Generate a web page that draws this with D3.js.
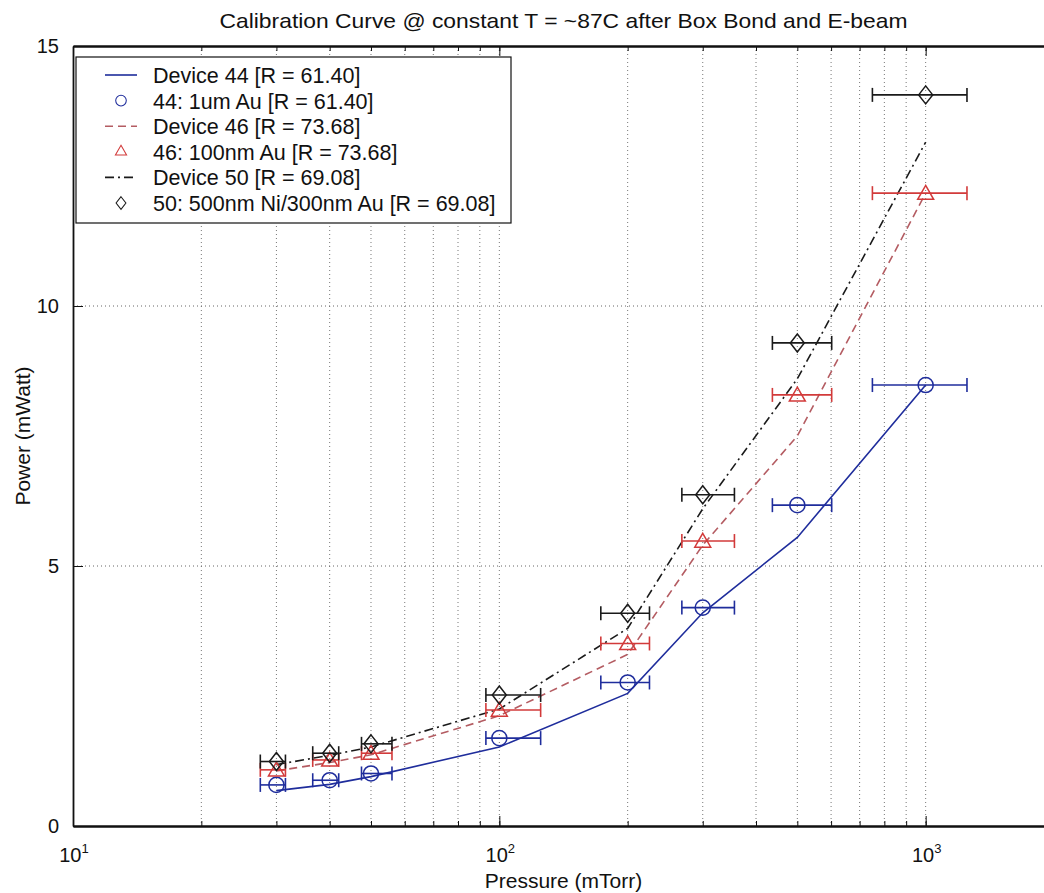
<!DOCTYPE html>
<html>
<head>
<meta charset="utf-8">
<script src="https://cdn.jsdelivr.net/npm/d3@7/dist/d3.min.js"></script>
<style>
  body { margin: 0; background: #fff; }
  text { font-family: "Liberation Sans", Arial, sans-serif; fill: #111; }
</style>
</head>
<body>
<div id="container"></div>
<script>
// pressure points (mTorr) and the horizontal error bar ends
var pressure = [30, 40, 50, 100, 200, 300, 500, 1000];
var pressureLow = [27.5, 36.5, 47.5, 93, 173, 268, 437, 750];
var pressureHigh = [31.5, 42, 56, 125, 225, 356, 602, 1250];

// measured power (mWatt)
var dev44Meas = [0.79, 0.88, 1.01, 1.69, 2.76, 4.20, 6.17, 8.48];
var dev46Meas = [1.08, 1.27, 1.40, 2.23, 3.51, 5.48, 8.29, 12.17];
var dev50Meas = [1.24, 1.40, 1.58, 2.52, 4.09, 6.37, 9.29, 14.06];

// model curves (mWatt)
var dev44Fit = [0.68, 0.80, 0.95, 1.52, 2.55, 4.10, 5.55, 8.48];
var dev46Fit = [1.06, 1.22, 1.37, 2.12, 3.30, 5.40, 7.50, 12.17];
var dev50Fit = [1.18, 1.36, 1.52, 2.25, 3.80, 6.10, 8.60, 13.15];

var legendLabels = [
  "Device 44 [R = 61.40]",
  "44: 1um Au [R = 61.40]",
  "Device 46 [R = 73.68]",
  "46: 100nm Au [R = 73.68]",
  "Device 50 [R = 69.08]",
  "50: 500nm Ni/300nm Au [R = 69.08]"
];
var xMajorTicks = [10, 100, 1000];
var xTickExp = ["1", "2", "3"];
var yTicks = [0, 5, 10, 15];

var titleText = "Calibration Curve @ constant T = ~87C after Box Bond and E-beam";
var xLabel = "Pressure (mTorr)";
var yLabel = "Power (mWatt)";

// size of the drawing
var svgWidth = 1044, svgHeight = 893;
var plotLeft = 73, plotRight = 1054, plotTop = 46, plotBottom = 826;

var svg = d3.select("#container")
  .append("svg")
  .attr("width", svgWidth)
  .attr("height", svgHeight);

var x = d3.scaleLog().domain([10, 2000]).range([plotLeft, plotRight]);
var y = d3.scaleLinear().domain([0, 15]).range([plotBottom, plotTop]);

// styles for each series
var blue = "#1f2d9c", red = "#d23a3a", redLine = "#b45c62", black = "#1a1a1a";
var series = [
  { meas: dev44Meas, fit: dev44Fit, color: blue, lineColor: blue, dash: null, marker: "circle" },
  { meas: dev46Meas, fit: dev46Fit, color: red, lineColor: redLine, dash: "8,5", marker: "triangle" },
  { meas: dev50Meas, fit: dev50Fit, color: black, lineColor: black, dash: "9,4,2,4", marker: "diamond" }
];

// grid (dotted)
var allXTicks = x.ticks().filter(function (d) { return d > 10 && d < 2000; });
var grid = svg.append("g").attr("class", "grid");
grid.selectAll(".vgrid")
  .data(allXTicks)
  .enter().append("line")
  .attr("x1", function (d) { return x(d); })
  .attr("x2", function (d) { return x(d); })
  .attr("y1", plotTop)
  .attr("y2", plotBottom)
  .attr("stroke", "#777")
  .attr("stroke-width", 1)
  .attr("stroke-dasharray", "1,3");
grid.selectAll(".hgrid")
  .data([5, 10])
  .enter().append("line")
  .attr("x1", plotLeft)
  .attr("x2", plotRight)
  .attr("y1", function (d) { return y(d); })
  .attr("y2", function (d) { return y(d); })
  .attr("stroke", "#666")
  .attr("stroke-width", 1)
  .attr("stroke-dasharray", "1,3");

// curves
var line = d3.line()
  .x(function (d, i) { return x(pressure[i]); })
  .y(function (d) { return y(d); });

series.forEach(function (s) {
  svg.append("path")
    .attr("d", line(s.fit))
    .attr("fill", "none")
    .attr("stroke", s.lineColor)
    .attr("stroke-width", 1.6)
    .attr("stroke-dasharray", s.dash);
});

// marker shapes
function markerPath(type) {
  if (type === "triangle") return d3.symbol().type(d3.symbolTriangle).size(110)();
  if (type === "diamond") return "M0,-9L7,0L0,9L-7,0Z";
  return d3.symbol().type(d3.symbolCircle).size(180)();
}

// error bars + markers
series.forEach(function (s) {
  var g = svg.append("g");
  var bars = g.selectAll(".bar")
    .data(s.meas)
    .enter().append("g");
  bars.append("line")
    .attr("x1", function (d, i) { return x(pressureLow[i]); })
    .attr("x2", function (d, i) { return x(pressureHigh[i]); })
    .attr("y1", function (d) { return y(d); })
    .attr("y2", function (d) { return y(d); })
    .attr("stroke", s.color)
    .attr("stroke-width", 1.6);
  [pressureLow, pressureHigh].forEach(function (arr) {
    bars.append("line")
      .attr("x1", function (d, i) { return x(arr[i]); })
      .attr("x2", function (d, i) { return x(arr[i]); })
      .attr("y1", function (d) { return y(d) - 7; })
      .attr("y2", function (d) { return y(d) + 7; })
      .attr("stroke", s.color)
      .attr("stroke-width", 1.6);
  });
  g.selectAll(".mk")
    .data(s.meas)
    .enter().append("path")
    .attr("d", markerPath(s.marker))
    .attr("transform", function (d, i) {
      var dy = s.marker === "triangle" ? 1.5 : 0;
      return "translate(" + x(pressure[i]) + "," + (y(d) + dy) + ")";
    })
    .attr("fill", "none")
    .attr("stroke", s.color)
    .attr("stroke-width", 1.5);
});

// axes - ticks on all sides, pointing inward
svg.append("g")
  .attr("transform", "translate(0," + plotBottom + ")")
  .call(d3.axisBottom(x).tickValues(xMajorTicks).tickSize(-10).tickSizeOuter(0).tickFormat(""));
svg.append("g")
  .attr("transform", "translate(0," + plotBottom + ")")
  .call(d3.axisBottom(x).tickValues(allXTicks).tickSize(-5).tickSizeOuter(0).tickFormat(""));
svg.append("g")
  .attr("transform", "translate(0," + plotTop + ")")
  .call(d3.axisTop(x).tickValues(xMajorTicks).tickSize(-10).tickSizeOuter(0).tickFormat(""));
svg.append("g")
  .attr("transform", "translate(0," + plotTop + ")")
  .call(d3.axisTop(x).tickValues(allXTicks).tickSize(-5).tickSizeOuter(0).tickFormat(""));
var leftAxis = svg.append("g")
  .attr("transform", "translate(" + plotLeft + ",0)")
  .call(d3.axisLeft(y).tickValues(yTicks).tickSize(-10).tickSizeOuter(0).tickPadding(14));

svg.selectAll(".domain").attr("stroke", "#111").attr("stroke-width", 1.8);
svg.selectAll(".tick line").attr("stroke", "#111");
leftAxis.selectAll("text")
  .style("font-size", "20px")
  .style("font-family", "'Liberation Sans', Arial, sans-serif")
  .attr("fill", "#111");

// x tick labels as powers of ten
var xl = svg.selectAll(".xlab")
  .data(xMajorTicks)
  .enter().append("text")
  .attr("x", function (d) { return x(d) + 1; })
  .attr("y", 862)
  .attr("text-anchor", "middle")
  .style("font-size", "20px");
xl.append("tspan").text("10");
xl.append("tspan")
  .text(function (d, i) { return xTickExp[i]; })
  .attr("dy", -9)
  .style("font-size", "13px");

// titles
svg.append("text")
  .text(titleText)
  .attr("x", (plotLeft + plotRight) / 2)
  .attr("y", 28)
  .attr("text-anchor", "middle")
  .attr("textLength", 688)
  .attr("lengthAdjust", "spacingAndGlyphs")
  .style("font-size", "21px");

svg.append("text")
  .text(xLabel)
  .attr("x", (plotLeft + plotRight) / 2)
  .attr("y", 888)
  .attr("text-anchor", "middle")
  .style("font-size", "21px");

svg.append("text")
  .text(yLabel)
  .attr("transform", "translate(30," + (plotTop + plotBottom) / 2 + ") rotate(-90)")
  .attr("text-anchor", "middle")
  .style("font-size", "21px");

// legend
var legend = svg.append("g");
legend.append("rect")
  .attr("x", 76).attr("y", 57)
  .attr("width", 435).attr("height", 166)
  .attr("fill", "#fff")
  .attr("stroke", "#111")
  .attr("stroke-width", 1.2);

legendLabels.forEach(function (lab, i) {
  var s = series[Math.floor(i / 2)];
  var cy = 75 + i * 25.6;
  if (i % 2 === 0) {
    legend.append("line")
      .attr("x1", 105).attr("x2", 137)
      .attr("y1", cy).attr("y2", cy)
      .attr("stroke", s.lineColor)
      .attr("stroke-width", 1.6)
      .attr("stroke-dasharray", s.dash);
  } else {
    legend.append("path")
      .attr("d", markerPath(s.marker))
      .attr("transform", "translate(121," + cy + ") scale(0.7)")
      .attr("fill", "none")
      .attr("stroke", s.color)
      .attr("stroke-width", 1.5);
  }
  legend.append("text")
    .text(lab)
    .attr("x", 153)
    .attr("y", cy + 8)
    .style("font-size", "21.5px");
});
</script>
</body>
</html>
